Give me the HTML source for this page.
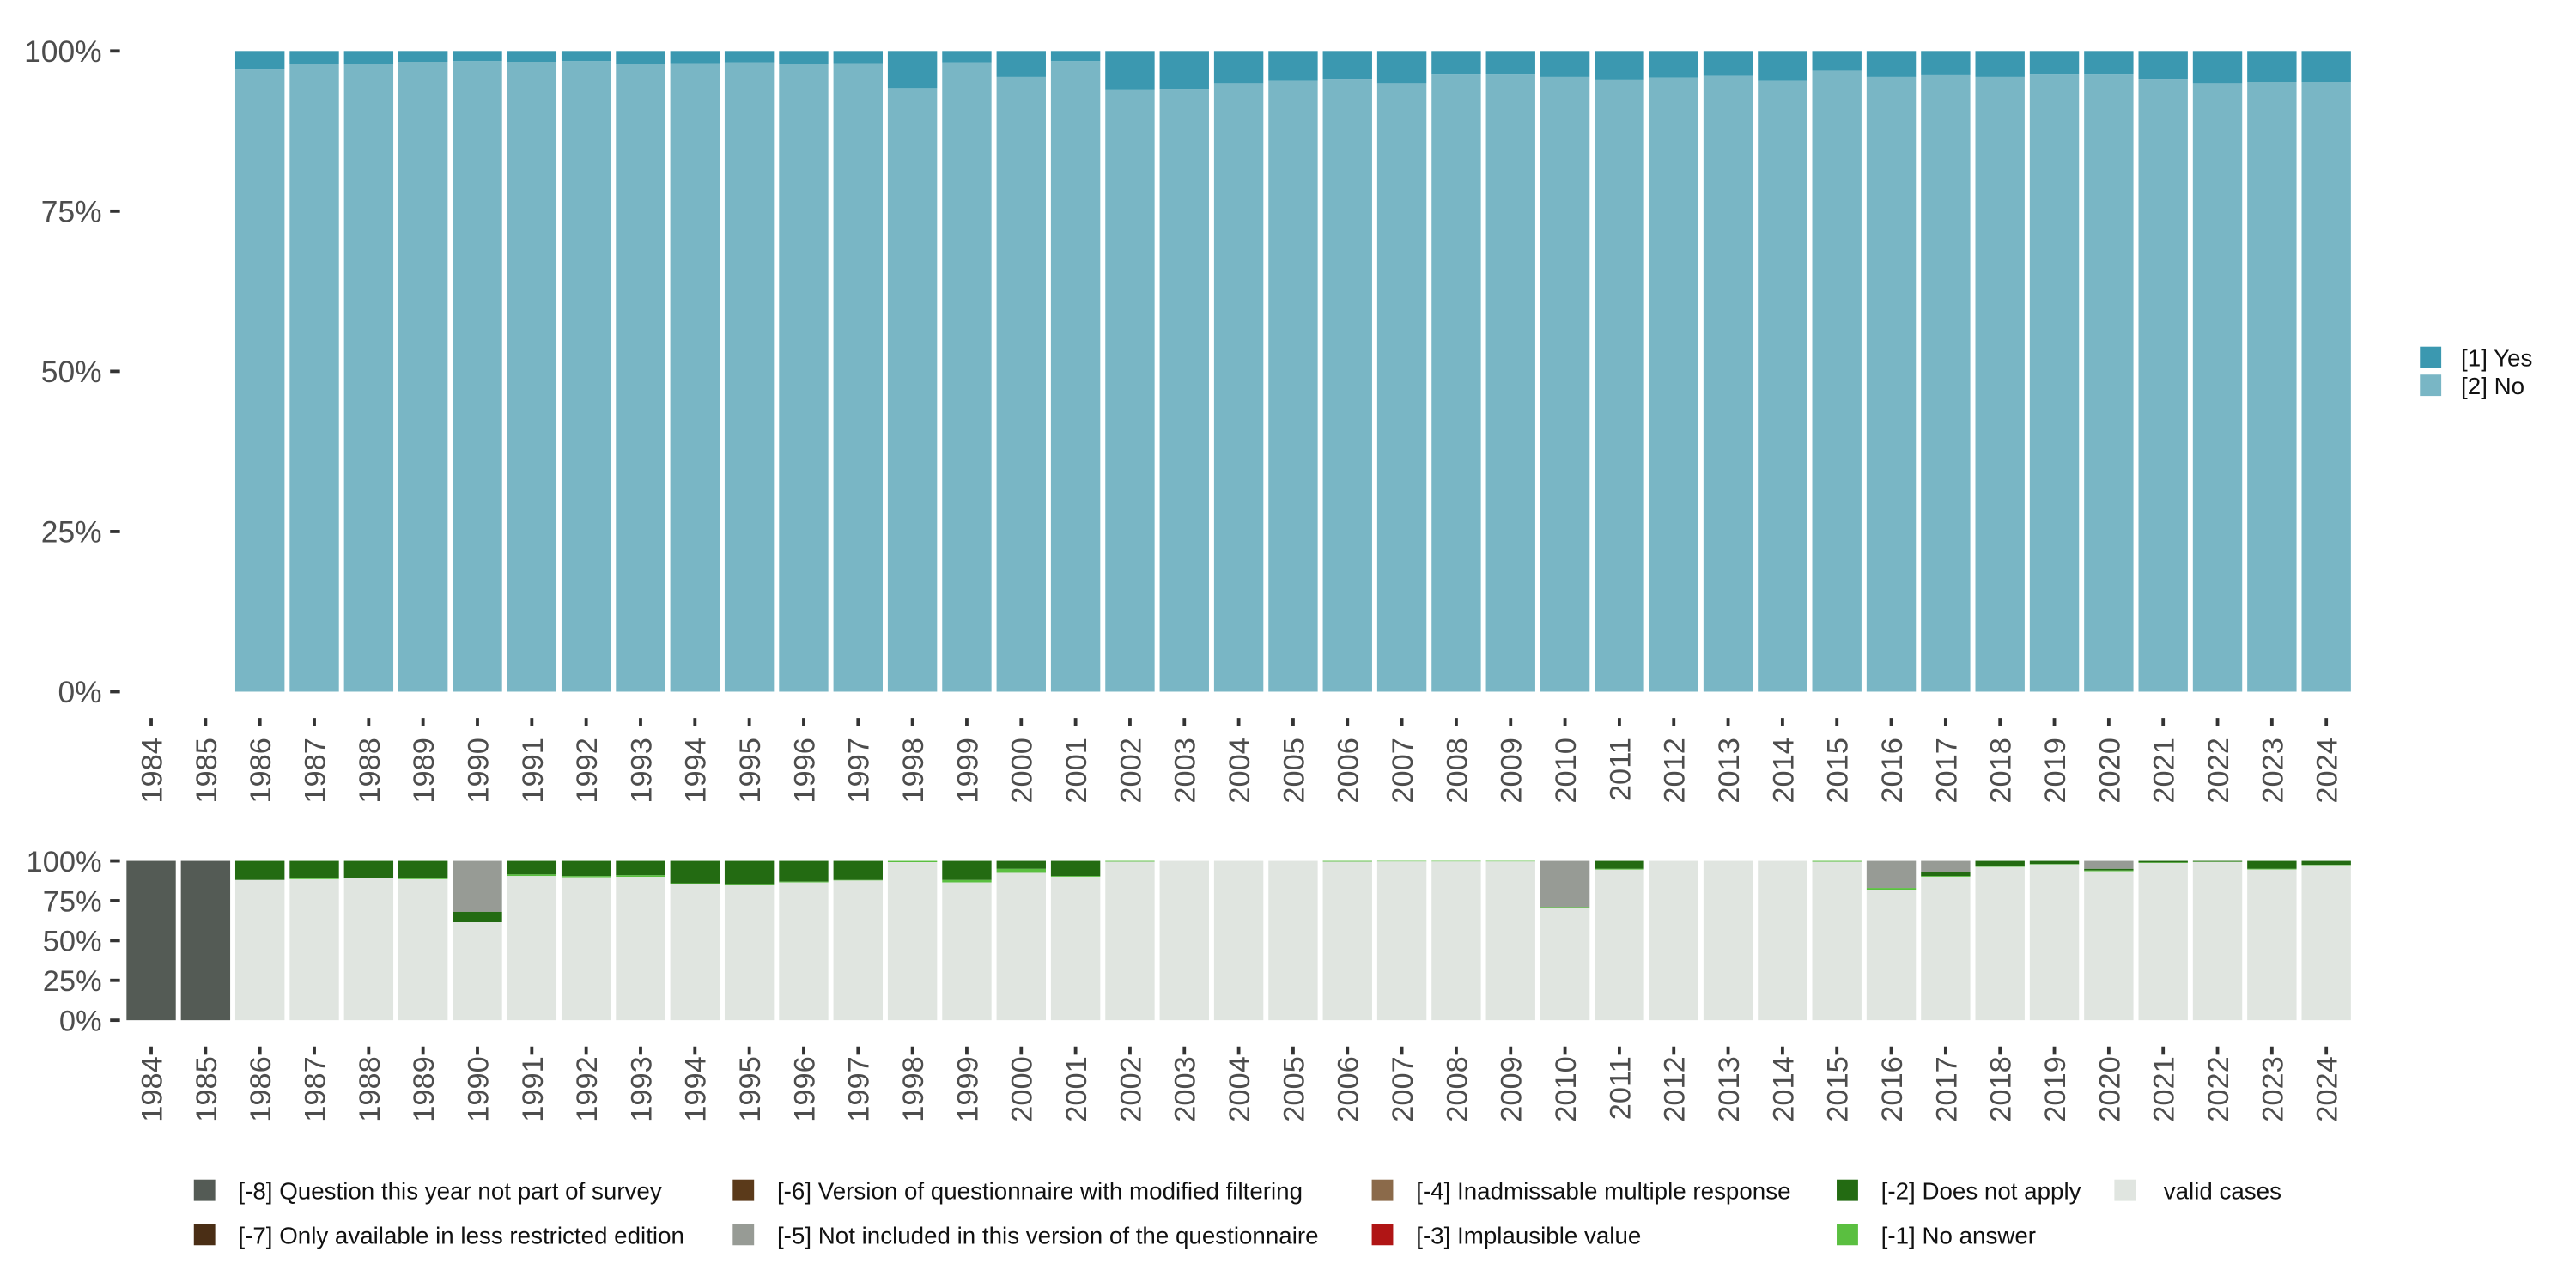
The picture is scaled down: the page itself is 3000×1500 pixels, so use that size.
<!DOCTYPE html>
<html><head><meta charset="utf-8"><style>
html,body{margin:0;padding:0;background:#fff;}
svg{display:block;font-family:"Liberation Sans","DejaVu Sans",sans-serif;}
</style></head><body>
<svg id="chart" width="3000" height="1500" viewBox="0 0 1568 784" xmlns="http://www.w3.org/2000/svg">
<g id="topPanel"></g>
<g id="botPanel"></g>
<g id="leg1">
<rect x="1473" y="211" width="13" height="13" fill="#3b98b0"/>
<text x="1498" y="223" font-size="14.5" fill="#111">[1] Yes</text>
<rect x="1473" y="228" width="13" height="13" fill="#79b6c5"/>
<text x="1498" y="240" font-size="14.5" fill="#111">[2] No</text>
</g>
<g id="leg2"></g>
</svg>
<script>
const years=[1984,1985,1986,1987,1988,1989,1990,1991,1992,1993,1994,1995,1996,1997,1998,1999,2000,2001,2002,2003,2004,2005,2006,2007,2008,2009,2010,2011,2012,2013,2014,2015,2016,2017,2018,2019,2020,2021,2022,2023,2024];
const yesPct=[null,null,2.8,2.0,2.1,1.7,1.6,1.7,1.6,2.0,1.9,1.8,2.0,1.9,5.9,1.8,4.1,1.6,6.1,6.0,5.1,4.6,4.4,5.1,3.6,3.6,4.1,4.5,4.2,3.8,4.6,3.1,4.1,3.7,4.1,3.6,3.6,4.4,5.1,4.9,4.9];
const m8=[100,100,0,0,0,0,0,0,0,0,0,0,0,0,0,0,0,0,0,0,0,0,0,0,0,0,0,0,0,0,0,0,0,0,0,0,0,0,0,0,0];
const m5=[0,0,0,0,0,0,32,0,0,0,0,0,0,0,0,0,0,0,0,0,0,0,0,0,0,0,29,0,0,0,0,0,17,7,0,0,5,0,0,0,0];
const m2=[0,0,12,11,10.5,11,6.5,8.5,9.5,9,14,15,13,12,0,12,5,9.5,0,0,0,0,0,0,0,0,0,5,0,0,0,0,0,2.5,3.5,2,1,1,0.5,5,2.5];
const m1=[0,0,0,0.5,0,0.5,0,1,0.8,1,0.6,0.4,0.5,0.3,0.8,1.5,2.5,0.5,0.5,0,0,0,0.5,0.4,0.4,0.4,0.5,0.5,0,0,0,0.6,1.5,0.5,0.3,0.3,0.5,0.3,0.2,0.4,0.3];
const yTicks=[0,25,50,75,100];
const NS="http://www.w3.org/2000/svg";
function mk(p,t,a){const e=document.createElementNS(NS,t);for(const k in a)e.setAttribute(k,a[k]);p.appendChild(e);return e;}
const xPos=i=>92+i*33.1, BW=30;
function panel(g,y0,y1,labelY,size,xsize){
 const y=v=>y1-(y1-y0)*v/100;
 yTicks.forEach(t=>{
  const tx=mk(g,'text',{x:62,y:y(t)+size*0.36,'text-anchor':'end','font-size':size,fill:'#4d4d4d'});tx.textContent=t+'%';
  
  
  const l=mk(g,'line',{x1:67,x2:73,y1:y(t),y2:y(t),stroke:'#333','stroke-width':2});
  
  
 });
 years.forEach((yr,i)=>{
  const l=mk(g,'line',{x1:xPos(i),x2:xPos(i),y1:y1+16,y2:y1+21,stroke:'#333','stroke-width':2});
  
  
  const t=mk(g,'text',{transform:`translate(${xPos(i)+6.5},${labelY}) rotate(-90)`,'text-anchor':'end','font-size':xsize,fill:'#4d4d4d'});t.textContent=yr;
  
  
 });
 return y;
}
const topG=document.getElementById('topPanel');
const yT=panel(topG,31,421,449,18.5,18);
years.forEach((yr,i)=>{
 if(yesPct[i]==null)return;
 const no=100-yesPct[i];
 const a=mk(topG,'rect',{x:xPos(i)-BW/2,y:yT(no),width:BW,height:yT(0)-yT(no),fill:'#79b6c5'});
 
 
 const b=mk(topG,'rect',{x:xPos(i)-BW/2,y:yT(100),width:BW,height:yT(no)-yT(100),fill:'#3b98b0'});
 
 
});
const botG=document.getElementById('botPanel');
const yB=panel(botG,524,621,643,18,18);
const segs=[['m8',m8,'#545b55'],['m5',m5,'#979b95'],['m2',m2,'#236b12'],['m1',m1,'#5abf40']];
years.forEach((yr,i)=>{
 let cur=100;
 segs.forEach(s=>{
  const v=s[1][i]; if(!v)return;
  const r=mk(botG,'rect',{x:xPos(i)-BW/2,y:yB(cur),width:BW,height:yB(cur-v)-yB(cur),fill:s[2]});
  
  
  cur-=v;
 });
 if(cur>0){
  const r=mk(botG,'rect',{x:xPos(i)-BW/2,y:yB(cur),width:BW,height:yB(0)-yB(cur),fill:'#e0e5e0'});
  
  
 }
});
const leg=document.getElementById('leg2');
const items=[
 [118,718,'#545b55','[-8] Question this year not part of survey'],
 [446,718,'#5b3a1a','[-6] Version of questionnaire with modified filtering'],
 [835,718,'#8b6a4a','[-4] Inadmissable multiple response'],
 [1118,718,'#236b12','[-2] Does not apply'],
 [1287,718,'#e0e5e0','valid cases'],
 [118,745,'#4a2e15','[-7] Only available in less restricted edition'],
 [446,745,'#979b95','[-5] Not included in this version of the questionnaire'],
 [835,745,'#b01515','[-3] Implausible value'],
 [1118,745,'#5abf40','[-1] No answer']];
items.forEach(it=>{
 const r=mk(leg,'rect',{x:it[0],y:it[1],width:13,height:13,fill:it[2]});
 
 
 const t=mk(leg,'text',{x:it[3]==='valid cases'?it[0]+30:it[0]+27,y:it[1]+12,'font-size':14.5,fill:'#111'});
 t.textContent=it[3];
 
 
});
</script>
</body></html>
